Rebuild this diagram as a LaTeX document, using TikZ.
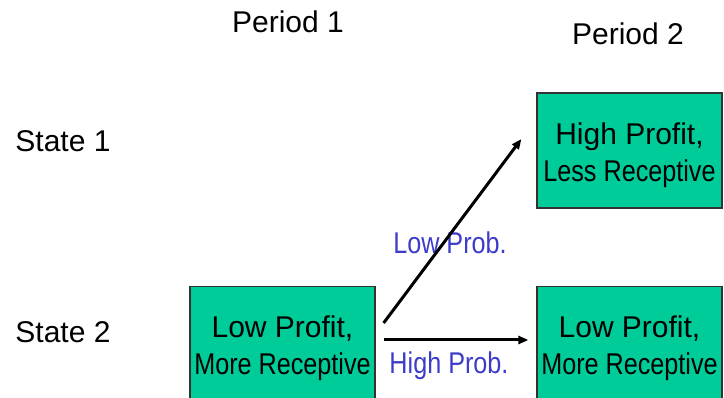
\documentclass[tikz,border=0pt]{standalone}
\usepackage{fontspec}
\setmainfont{Liberation Sans}
\newfontfamily\narrowfont[FakeStretch=0.84]{Liberation Sans}
\usetikzlibrary{arrows.meta}
\definecolor{boxgreen}{HTML}{00CC99}
\definecolor{boxedge}{HTML}{333333}
\definecolor{problue}{HTML}{3C3CC8}
\newcommand{\boxstrut}{\rule{0pt}{31pt}}
\tikzset{
  statebox/.style={draw=boxedge, line width=1.2pt, fill=boxgreen, minimum width=185pt, minimum height=115pt, inner sep=0pt, align=center, text=black, font=\fontsize{30}{36}\selectfont},
  lbl/.style={font=\fontsize{30}{36}\selectfont, inner sep=0pt},
  problbl/.style={font=\fontsize{30}{36}\selectfont\narrowfont, text=problue, inner sep=0pt},
  trans/.style={line width=3pt, -{Triangle[length=10pt,width=8pt]}}
}
\begin{document}
\begin{tikzpicture}[x=1pt,y=-1pt]
\useasboundingbox (0,0) rectangle (724,398);
\clip (0,0) rectangle (724,398);
\node[lbl] (p1) at (288,22) {Period 1};
\node[lbl] (p2) at (628,34) {Period 2};
\node[lbl] (s1) at (63,141) {State 1};
\node[lbl] (s2) at (63,332) {State 2};
\node[statebox] (lp) at (282.5,344) {\boxstrut Low Profit,\\[1pt]{\narrowfont More Receptive}};
\node[statebox] (hp) at (629.5,150.5) {\boxstrut High Profit,\\[1pt]{\narrowfont Less Receptive}};
\node[statebox] (lr) at (629.5,344) {\boxstrut Low Profit,\\[1pt]{\narrowfont More Receptive}};
\node[problbl] (lowp) at (450,243) {Low Prob.};
\node[problbl] (highp) at (449,366) {High Prob.};
\draw[trans] ([shift={(8,-21)}]lp.east) -- ([shift={(-15,-11.5)}]hp.west);
\draw[trans] ([shift={(8,-4)}]lp.east) -- ([shift={(-8,-4)}]lr.west);
\end{tikzpicture}
\end{document}
